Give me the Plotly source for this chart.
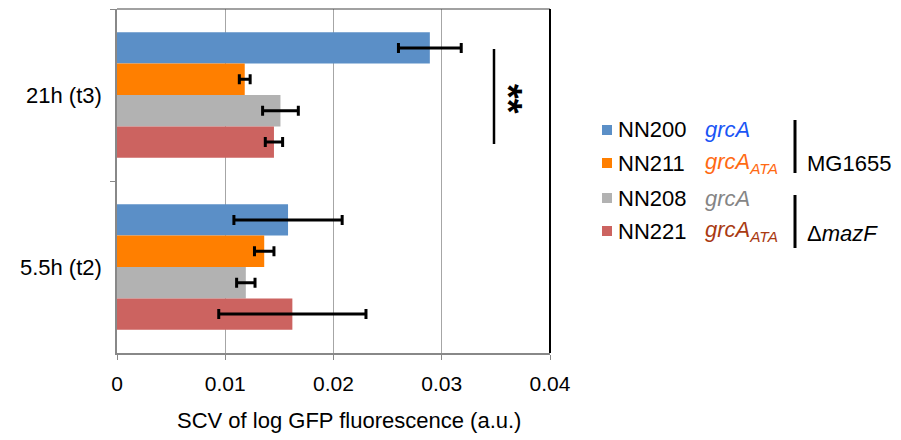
import plotly.graph_objects as go

categories = ["21h (t3)", "5.5h (t2)"]
strains = ["NN200", "NN211", "NN208", "NN221"]
values = {
    "NN200": [0.0289, 0.0158],
    "NN211": [0.0118, 0.0136],
    "NN208": [0.0151, 0.0119],
    "NN221": [0.0145, 0.0162],
}
errors = {
    "NN200": [0.0029, 0.0050],
    "NN211": [0.0005, 0.0009],
    "NN208": [0.00165, 0.00085],
    "NN221": [0.0008, 0.0068],
}
bar_colors = {"NN200": "#5B8FC7", "NN211": "#FF7F00", "NN208": "#B2B2B2", "NN221": "#CC6360"}
gene_labels = {
    "NN200": ("<i>grcA</i>", "#1A55F5"),
    "NN211": ("<i>grcA</i><sub><i>ATA</i></sub>", "#FF6A13"),
    "NN208": ("<i>grcA</i>", "#858585"),
    "NN221": ("<i>grcA</i><sub><i>ATA</i></sub>", "#A93A12"),
}
x_ticks = [0, 0.01, 0.02, 0.03, 0.04]
x_tick_text = ["0", "0.01", "0.02", "0.03", "0.04"]

FONT = "Liberation Sans, Arial, Helvetica, sans-serif"
W, H = 901, 440
OFF = 8  # default body margin of the page
L, R, T, B = 117, 550, 9, 353  # plot area in page pixels

def px(x):
    return (x - L) / (R - L)

def py(y):
    return (B - y) / (B - T)

fig = go.Figure()
for s in strains:
    fig.add_trace(go.Bar(
        y=categories, x=values[s], name=s, orientation="h",
        marker=dict(color=bar_colors[s], line=dict(width=0)),
        error_x=dict(type="data", array=errors[s], visible=True,
                     color="black", thickness=3, width=5),
        showlegend=False,
    ))

shapes = []
annotations = []

# plot frame: top thin, right thick
shapes.append(dict(type="line", xref="paper", yref="paper", x0=0, x1=1, y0=1, y1=1,
                   line=dict(color="#444444", width=1.2)))
shapes.append(dict(type="line", xref="paper", yref="paper", x0=1, x1=1, y0=0, y1=1,
                   line=dict(color="black", width=2)))

# significance bar and stars
shapes.append(dict(type="line", xref="paper", yref="paper", x0=px(494), x1=px(494),
                   y0=py(49), y1=py(144), line=dict(color="black", width=2.5)))
annotations.append(dict(xref="paper", yref="paper", x=px(508), y=py(99), text="<b>**</b>",
                        textangle=90, showarrow=False, font=dict(size=38, family=FONT, color="black"),
                        xanchor="center", yanchor="middle"))

# legend
LF = 22
rows_y = [130, 163, 198, 231]
for s, yy in zip(strains, rows_y):
    shapes.append(dict(type="rect", xref="paper", yref="paper",
                       x0=px(602), x1=px(612), y0=py(yy - 5), y1=py(yy + 5),
                       fillcolor=bar_colors[s], line=dict(width=0)))
    annotations.append(dict(xref="paper", yref="paper", x=px(616), y=py(yy), text=s,
                            showarrow=False, xanchor="left", yanchor="middle",
                            font=dict(size=LF, family=FONT, color="black")))
    txt, col = gene_labels[s]
    annotations.append(dict(xref="paper", yref="paper", x=px(703), y=py(yy), text=txt,
                            showarrow=False, xanchor="left", yanchor="middle",
                            font=dict(size=LF, family=FONT, color=col)))

for y0, y1 in [(120, 173), (195, 248)]:
    shapes.append(dict(type="line", xref="paper", yref="paper", x0=px(795), x1=px(795),
                       y0=py(y0), y1=py(y1), line=dict(color="black", width=3)))
annotations.append(dict(xref="paper", yref="paper", x=px(805), y=py(163), text="MG1655",
                        showarrow=False, xanchor="left", yanchor="middle",
                        font=dict(size=LF, family=FONT, color="black")))
annotations.append(dict(xref="paper", yref="paper", x=px(805), y=py(233), text="Δ<i>mazF</i>",
                        showarrow=False, xanchor="left", yanchor="middle",
                        font=dict(size=LF, family=FONT, color="black")))

# x title
annotations.append(dict(xref="paper", yref="paper", x=px(349), y=py(421),
                        text="SCV of log GFP fluorescence (a.u.)", showarrow=False,
                        xanchor="center", yanchor="middle",
                        font=dict(size=22, family=FONT, color="black")))

FW, FH = W - OFF, H - OFF
fig.update_layout(
    width=FW, height=FH,
    margin=dict(l=L - OFF, r=FW - (R - OFF), t=T - OFF, b=FH - (B - OFF), pad=0),
    paper_bgcolor="white", plot_bgcolor="white",
    barmode="group", bargap=0.27, bargroupgap=0,
    font=dict(family=FONT, size=21, color="black"),
    shapes=shapes, annotations=annotations,
    xaxis=dict(range=[0, 0.04], tickvals=x_ticks, ticktext=x_tick_text,
               showgrid=True, gridcolor="#A6A6A6", gridwidth=1,
               showline=True, linecolor="#888888", linewidth=1.5,
               ticks="outside", ticklen=5, tickcolor="#888888", ticklabelstandoff=6,
               tickfont=dict(size=21, family=FONT, color="black"), zeroline=False),
    yaxis=dict(type="category", categoryorder="array", categoryarray=categories,
               autorange="reversed", tickson="boundaries",
               showline=True, linecolor="#888888", linewidth=1.5,
               ticks="outside", ticklen=5, tickcolor="#888888", ticklabelstandoff=9,
               tickfont=dict(size=22, family=FONT, color="black"), showgrid=False),
)

fig.write_html("out.html")
